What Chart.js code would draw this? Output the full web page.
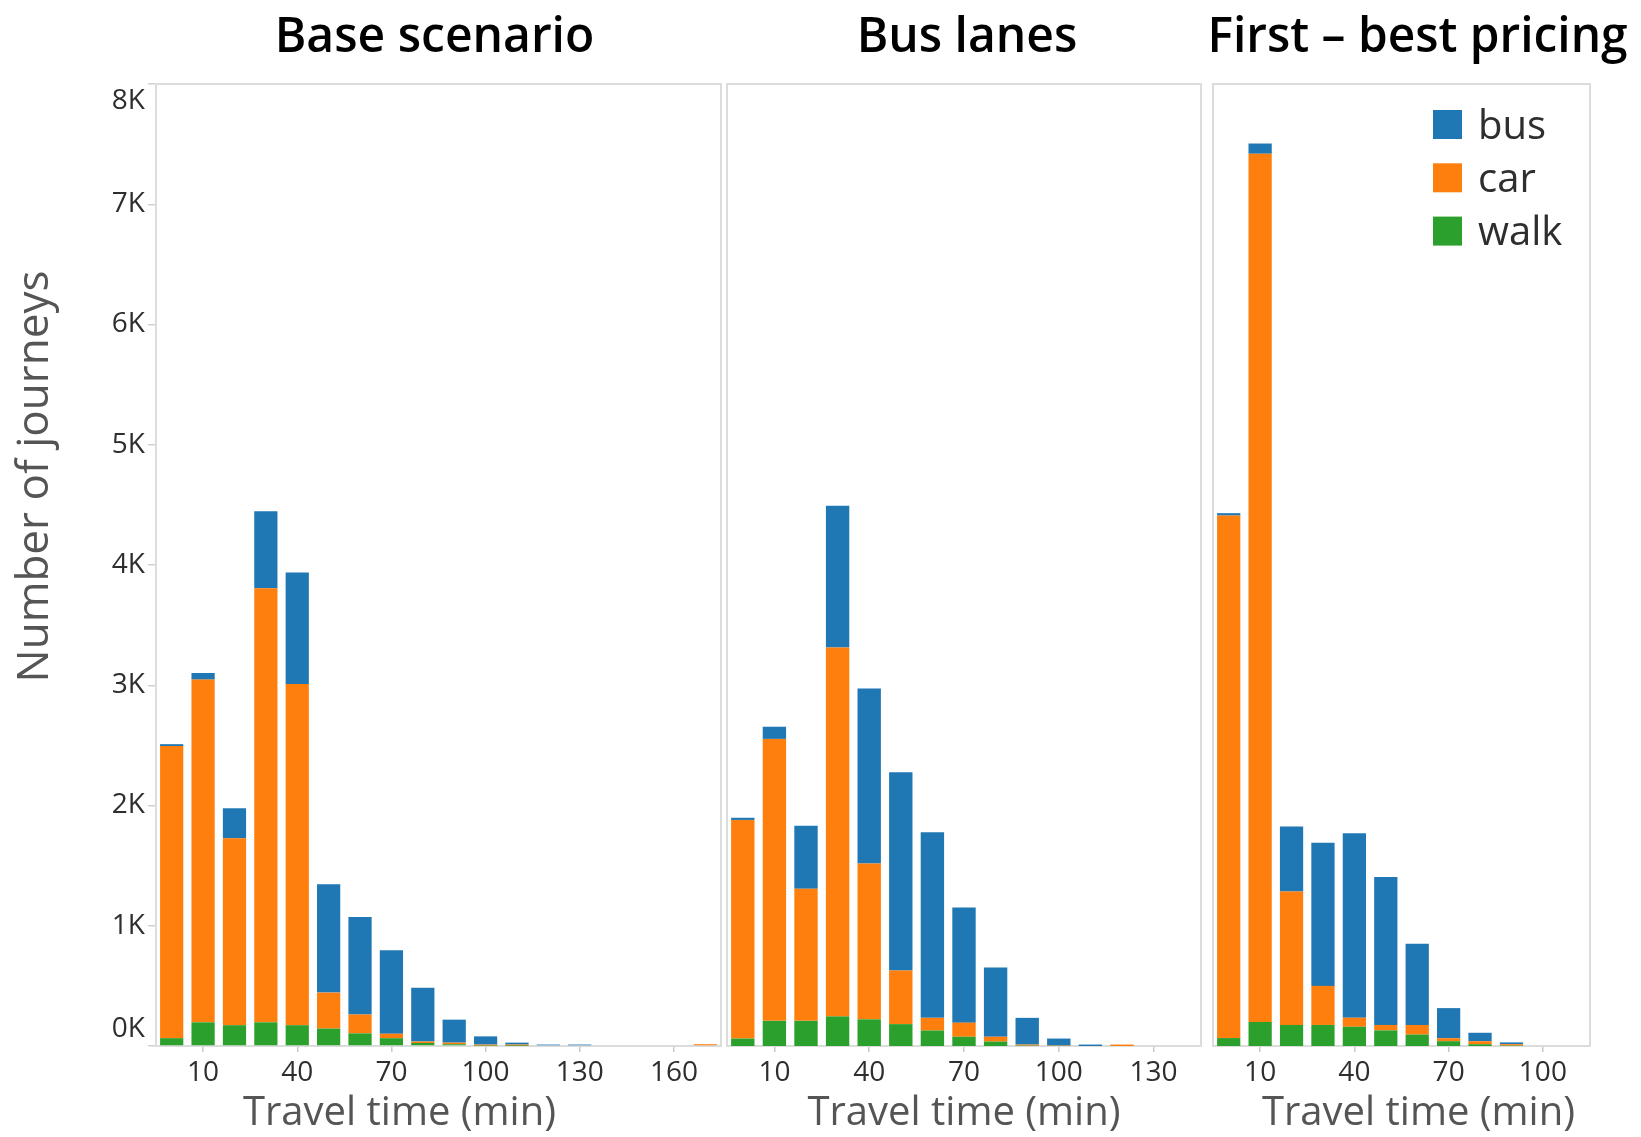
<!DOCTYPE html>
<html>
<head>
<meta charset="utf-8">
<script src="https://cdn.jsdelivr.net/npm/chart.js@4.4.1/dist/chart.umd.min.js"></script>
<style>
  html, body { margin: 0; padding: 0; background: #ffffff; }
  #wrap { position: relative; width: 1641px; height: 1137px; overflow: hidden; }
  .panel { position: absolute; top: 0; height: 1137px; }
</style>
</head>
<body>
<div id="wrap">
  <div class="panel" style="left:0px;width:725px"><canvas id="c1"></canvas></div>
  <div class="panel" style="left:725px;width:480px"><canvas id="c2"></canvas></div>
  <div class="panel" style="left:1205px;width:436px"><canvas id="c3"></canvas></div>
</div>
<script>
// ---------- data ----------
const yTickLabels = ['0K', '1K', '2K', '3K', '4K', '5K', '6K', '7K', '8K'];
const seriesNames = ['walk', 'car', 'bus'];
const seriesColors = ['#2ca02c', '#ff7f0e', '#1f77b4'];
const panelTitles = ['Base scenario', 'Bus lanes', 'First \u2013 best pricing'];
const xAxisTitle = 'Travel time (min)';
const yAxisTitle = 'Number of journeys';

// Base scenario
const baseBins = [0, 10, 20, 30, 40, 50, 60, 70, 80, 90, 100, 110, 120, 130, 140, 150, 160, 170];
const baseWalk = [65, 197, 173, 197, 173, 145, 105, 65, 25, 15, 3, 2, 0, 0, 0, 0, 0, 0];
const baseCar  = [2430, 2850, 1554, 3609, 2837, 299, 157, 37, 12, 13, 9, 10, 0, 0, 0, 0, 0, 15];
const baseBus  = [15, 55, 250, 641, 928, 901, 811, 694, 447, 191, 68, 16, 12, 12, 0, 0, 0, 0];
const baseTicks = ['10', '40', '70', '100', '130', '160'];

// Bus lanes
const laneBins = [0, 10, 20, 30, 40, 50, 60, 70, 80, 90, 100, 110, 120, 130, 140];
const laneWalk = [62, 209, 209, 246, 222, 182, 129, 77, 37, 3, 1, 0, 0, 0, 0];
const laneCar  = [1818, 2345, 1099, 3068, 1295, 446, 105, 117, 40, 9, 3, 0, 12, 0, 0];
const laneBus  = [18, 101, 523, 1178, 1455, 1649, 1544, 957, 575, 222, 58, 12, 0, 0, 0];
const laneTicks = ['10', '40', '70', '100', '130'];

// First-best pricing
const priceBins = [0, 10, 20, 30, 40, 50, 60, 70, 80, 90, 100, 110];
const priceWalk = [66, 200, 175, 175, 160, 130, 95, 40, 15, 3, 0, 0];
const priceCar  = [4345, 7220, 1110, 325, 75, 45, 80, 25, 25, 12, 0, 0];
const priceBus  = [20, 85, 540, 1190, 1535, 1230, 675, 250, 70, 15, 0, 0];
const priceTicks = ['10', '40', '70', '100'];

// ---------- plugins ----------
Chart.defaults.font.family = "'Open Sans', sans-serif";

const framePlugin = {
  id: 'frame',
  beforeDatasetsDraw(chart) {
    const a = chart.chartArea, ctx = chart.ctx;
    ctx.save();
    ctx.strokeStyle = '#dcdcdc';
    ctx.lineWidth = 2;
    ctx.strokeRect(a.left, a.top, a.right - a.left, a.bottom - a.top);
    ctx.restore();
  }
};

const panelTitlePlugin = {
  id: 'panelTitle',
  afterDraw(chart, args, opts) {
    if (!opts.text) return;
    const a = chart.chartArea, ctx = chart.ctx;
    ctx.save();
    ctx.font = "600 48px 'Open Sans', sans-serif";
    ctx.fillStyle = '#000000';
    ctx.textAlign = 'center';
    ctx.textBaseline = 'alphabetic';
    ctx.fillText(opts.text, (a.left + a.right) / 2 + (opts.dx || 0), 52, opts.maxWidth || 2000);
    ctx.restore();
  }
};

const xTitlePlugin = {
  id: 'xTitle',
  afterDraw(chart, args, opts) {
    if (!opts.text) return;
    const a = chart.chartArea, ctx = chart.ctx;
    ctx.save();
    ctx.font = "40px 'Open Sans', sans-serif";
    ctx.fillStyle = '#555555';
    ctx.textAlign = 'center';
    ctx.textBaseline = 'middle';
    ctx.fillText(opts.text, (a.left + a.right) / 2 + (opts.dx || 0), a.bottom + 68);
    ctx.restore();
  }
};

const yTitlePlugin = {
  id: 'yTitle',
  afterDraw(chart, args, opts) {
    if (!opts.text) return;
    const a = chart.chartArea, ctx = chart.ctx;
    ctx.save();
    ctx.translate(35, a.top + (a.bottom - a.top) * 0.408);
    ctx.rotate(-Math.PI / 2);
    ctx.font = "44px 'Open Sans', sans-serif";
    ctx.fillStyle = '#555555';
    ctx.textAlign = 'center';
    ctx.textBaseline = 'middle';
    ctx.fillText(opts.text, 0, 0);
    ctx.restore();
  }
};

const boxLegendPlugin = {
  id: 'boxLegend',
  afterDraw(chart, args, opts) {
    if (!opts.show) return;
    const a = chart.chartArea, ctx = chart.ctx;
    const items = chart.data.datasets.slice().reverse();
    ctx.save();
    items.forEach((d, i) => {
      const cy = a.top + 40.5 + i * 53.3;
      const bx = a.right - 157;
      ctx.fillStyle = d.backgroundColor;
      ctx.fillRect(bx, cy - 14.5, 29, 29);
      ctx.fillStyle = '#2e2e2e';
      ctx.font = "40px 'Open Sans', sans-serif";
      ctx.textAlign = 'left';
      ctx.textBaseline = 'alphabetic';
      ctx.fillText(d.label, bx + 45, cy + 14);
    });
    ctx.restore();
  }
};

// ---------- builder ----------
function makePanel(canvasId, bins, walk, car, bus, ticks, title, opts) {
  const values = [walk, car, bus];
  const datasets = seriesNames.map((name, i) => ({
    label: name,
    data: values[i],
    backgroundColor: seriesColors[i],
    borderWidth: 0,
    barPercentage: 0.74,
    categoryPercentage: 1.0
  }));
  const isTick = idx => ticks.includes(String(bins[idx]));
  const lastY = yTickLabels.length - 1;
  return new Chart(document.getElementById(canvasId), {
    type: 'bar',
    data: { labels: bins.map(String), datasets },
    plugins: [framePlugin, panelTitlePlugin, xTitlePlugin, yTitlePlugin, boxLegendPlugin],
    options: {
      responsive: true,
      maintainAspectRatio: false,
      animation: false,
      events: [],
      layout: { padding: { top: 84, bottom: 0, left: opts.padLeft, right: opts.padRight } },
      plugins: {
        legend: { display: false },
        tooltip: { enabled: false },
        title: { display: false },
        panelTitle: { text: title, dx: opts.titleDx || 0, maxWidth: opts.titleMaxWidth },
        xTitle: { text: xAxisTitle, dx: opts.xTitleDx || 0 },
        yTitle: { text: opts.showY ? yAxisTitle : '' },
        boxLegend: { show: !!opts.showLegend }
      },
      scales: {
        x: {
          stacked: true,
          offset: true,
          border: { display: false },
          grid: {
            offset: false,
            drawOnChartArea: false,
            drawTicks: true,
            tickLength: 6,
            lineWidth: 1.5,
            color: ctx => isTick(ctx.index) ? '#c8c8c8' : 'rgba(0,0,0,0)'
          },
          ticks: {
            autoSkip: false,
            maxRotation: 0,
            minRotation: 0,
            padding: 4,
            color: '#2e2e2e',
            font: { size: 28 },
            callback: function (value, index) { return isTick(index) ? String(bins[index]) : ''; }
          },
          title: { display: false },
          afterFit: s => { s.height = 91; }
        },
        y: {
          display: opts.showY,
          stacked: true,
          min: 0,
          max: 8000,
          border: { display: false },
          grid: {
            drawOnChartArea: false,
            drawTicks: true,
            tickLength: 8,
            lineWidth: 1.5,
            color: '#d0d0d0'
          },
          ticks: {
            stepSize: 1000,
            padding: 3,
            color: '#2e2e2e',
            font: { size: 28 },
            callback: function (value, index) {
              const lbl = yTickLabels[index];
              if (index === 0) return [lbl, ''];
              if (index === lastY) return ['', lbl];
              return lbl;
            }
          },
          afterFit: s => { s.width = opts.showY ? 156 : 0; }
        }
      }
    }
  });
}

makePanel('c1', baseBins, baseWalk, baseCar, baseBus, baseTicks, panelTitles[0],
  { padLeft: 0, padRight: 4, showY: true, titleDx: -4, xTitleDx: -39 });
makePanel('c2', laneBins, laneWalk, laneCar, laneBus, laneTicks, panelTitles[1],
  { padLeft: 2, padRight: 4, showY: false, titleDx: 3 });
makePanel('c3', priceBins, priceWalk, priceCar, priceBus, priceTicks, panelTitles[2],
  { padLeft: 8, padRight: 51, showY: false, showLegend: true, titleDx: 16, titleMaxWidth: 420, xTitleDx: 17 });
</script>
</body>
</html>
